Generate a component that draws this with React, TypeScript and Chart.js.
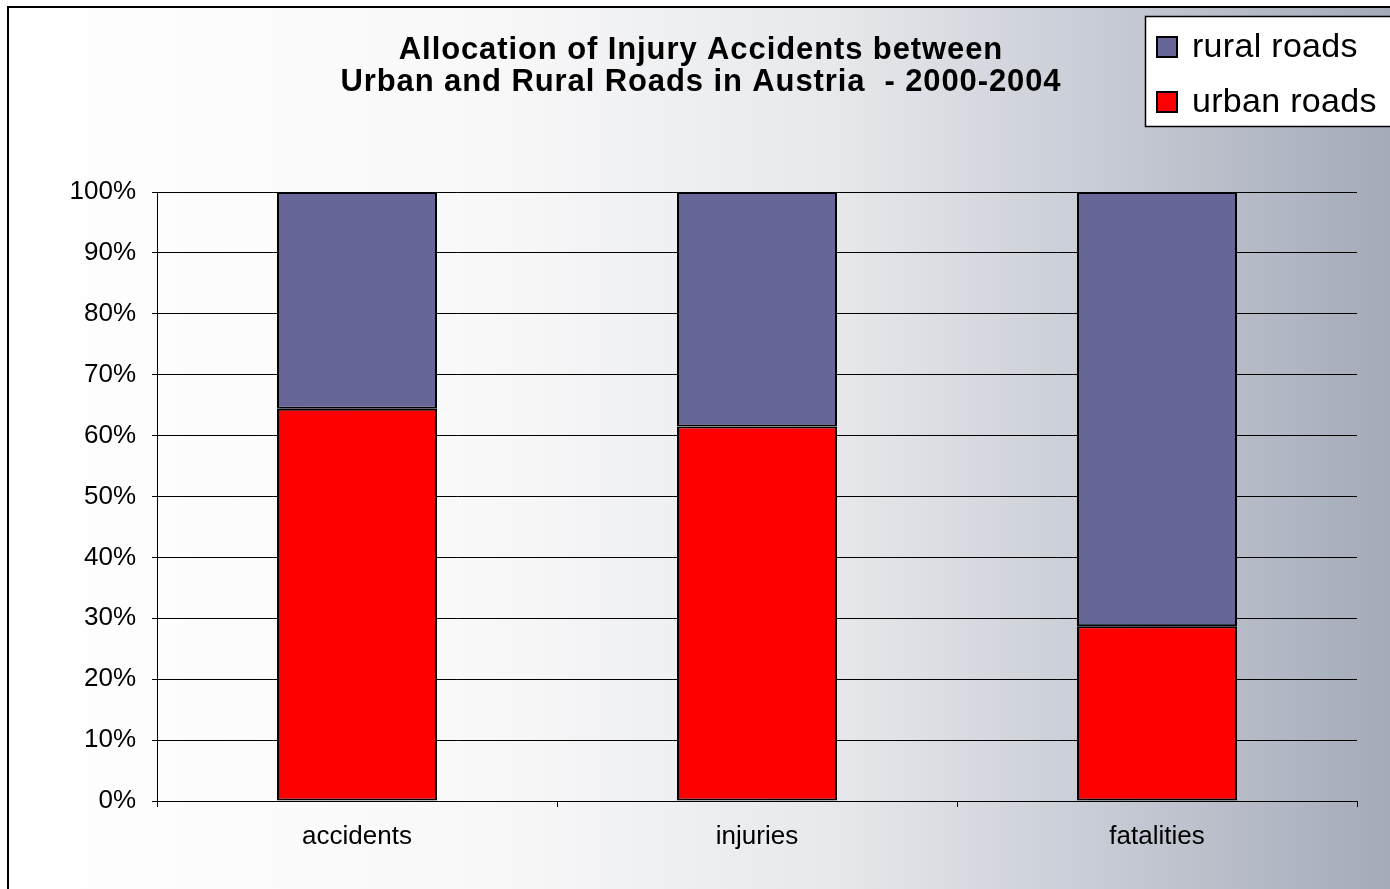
import React, { useEffect, useRef } from "react";
import { Chart, registerables } from "chart.js";

Chart.register(...registerables);

const categories = ["accidents", "injuries", "fatalities"];
const urbanRoads = [64.4, 61.5, 28.7];
const ruralRoads = [35.6, 38.5, 71.3];
const seriesLabels = ["urban roads", "rural roads"];
const seriesColors = ["#ff0000", "#666699"];
const titleLines = [
  "Allocation of Injury Accidents between",
  "Urban and Rural Roads in Austria  - 2000-2004",
];
const yMin = 0;
const yMax = 100;
const yStep = 10;

const FONT = "'Liberation Sans', Arial, sans-serif";

const overlayPlugin = {
  id: "overlay",
  afterDraw(chart: any) {
    const ctx = chart.ctx as CanvasRenderingContext2D;
    ctx.save();
    // title
    ctx.fillStyle = "#000";
    ctx.font = `bold 31px ${FONT}`;
    (ctx as any).letterSpacing = "0.9px";
    ctx.textAlign = "center";
    ctx.textBaseline = "alphabetic";
    titleLines.forEach((line, i) => {
      ctx.fillText(line, chart.width / 2, 51 + i * 32);
    });
    // legend box
    (ctx as any).letterSpacing = "0.3px";
    ctx.fillStyle = "#fff";
    ctx.fillRect(1136, 8, 400, 111);
    ctx.strokeStyle = "#000";
    ctx.lineWidth = 1.5;
    ctx.strokeRect(1136.5, 8.5, 400, 110);
    const ds = chart.data.datasets.slice().reverse();
    ds.forEach((d: any, i: number) => {
      const cy = 39 + i * 55;
      ctx.fillStyle = d.backgroundColor;
      ctx.fillRect(1148, cy - 10, 20, 20);
      ctx.lineWidth = 2;
      ctx.strokeStyle = "#000";
      ctx.strokeRect(1148, cy - 10, 20, 20);
      ctx.fillStyle = "#000";
      ctx.font = `34px ${FONT}`;
      ctx.textAlign = "left";
      ctx.textBaseline = "middle";
      ctx.fillText(d.label, 1183, cy + 1);
    });
    ctx.restore();
  },
};

export default function App() {
  const ref = useRef<HTMLCanvasElement | null>(null);

  useEffect(() => {
    if (!ref.current) return;
    document.body.style.overflow = "hidden";
    const chart = new Chart(ref.current, {
      type: "bar",
      data: {
        labels: categories,
        datasets: [
          {
            label: seriesLabels[0],
            data: urbanRoads,
            backgroundColor: seriesColors[0],
            borderColor: "#000",
            borderWidth: 2,
            borderSkipped: false,
            barPercentage: 0.4,
            categoryPercentage: 1.0,
          },
          {
            label: seriesLabels[1],
            data: ruralRoads,
            backgroundColor: seriesColors[1],
            borderColor: "#000",
            borderWidth: 2,
            borderSkipped: false,
            barPercentage: 0.4,
            categoryPercentage: 1.0,
          },
        ],
      },
      options: {
        responsive: false,
        animation: false,
        devicePixelRatio: 1,
        layout: { padding: { top: 184, right: 36, left: 0, bottom: 0 } },
        plugins: {
          legend: { display: false },
          title: { display: false },
          tooltip: { enabled: false },
        },
        scales: {
          x: {
            stacked: true,
            offset: true,
            afterFit: (s: any) => {
              s.height = 88;
            },
            grid: {
              display: true,
              drawOnChartArea: false,
              drawTicks: true,
              tickLength: 6,
              color: "#000",
              offset: true,
            },
            border: { display: true, color: "#000", width: 1 },
            ticks: {
              color: "#000",
              font: { family: FONT, size: 26 },
              padding: 14,
            },
          },
          y: {
            stacked: true,
            min: yMin,
            max: yMax,
            afterFit: (s: any) => {
              s.width = 148;
            },
            grid: {
              color: "#000",
              lineWidth: 1,
              drawTicks: true,
              tickLength: 5,
            },
            border: { display: true, color: "#000", width: 1 },
            ticks: {
              stepSize: yStep,
              color: "#000",
              font: { family: FONT, size: 26 },
              padding: 16,
              callback: (v: any) => `${v}%`,
            },
          },
        },
      },
      plugins: [overlayPlugin],
    });
    return () => chart.destroy();
  }, []);

  return (
    <div
      style={{
        position: "fixed",
        left: 0,
        top: 0,
        width: 1390,
        height: 889,
        overflow: "hidden",
        background: "#fff",
      }}
    >
      <div
        style={{
          position: "absolute",
          left: 7,
          top: 6,
          width: 1384,
          height: 881,
          borderLeft: "2px solid #000",
          borderTop: "2px solid #000",
          background:
            "linear-gradient(to right, #ffffff 0%, #f8f8f9 35%, #e6e8eb 60%, #c6cad3 80%, #a3aab9 100%)",
        }}
      >
        <canvas
          ref={ref}
          width={1384}
          height={881}
          style={{ display: "block", width: 1384, height: 881 }}
        />
      </div>
    </div>
  );
}
